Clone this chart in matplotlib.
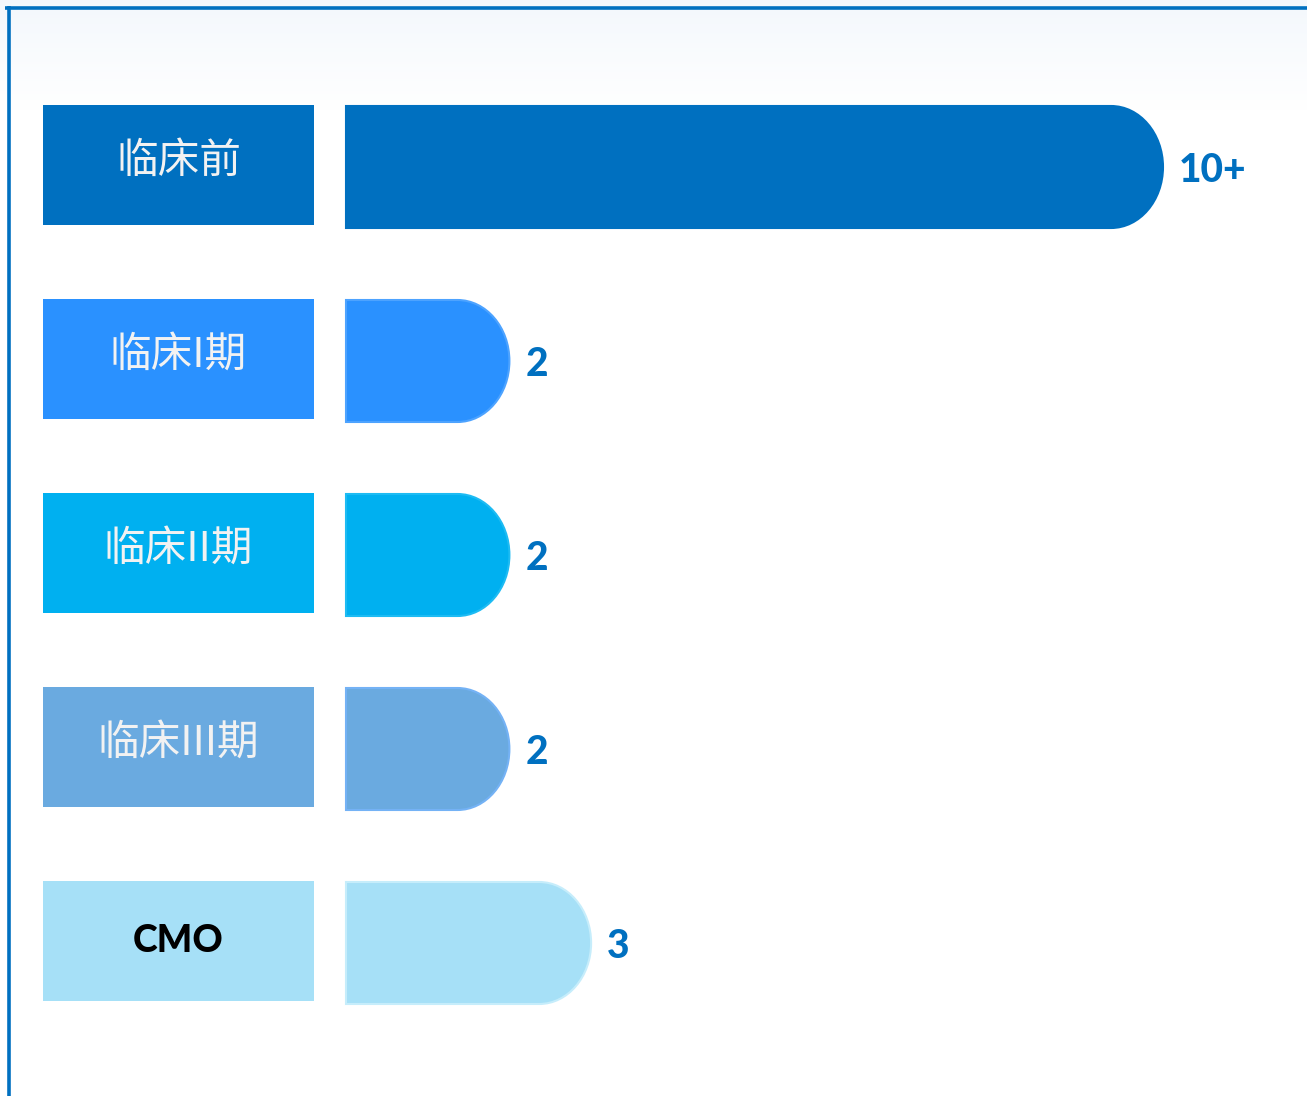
import matplotlib
matplotlib.use("Agg")
import matplotlib.pyplot as plt
import numpy as np
from matplotlib.path import Path
from matplotlib.patches import PathPatch, Rectangle

# ---- data ----
categories = ["临床前", "临床I期", "临床II期", "临床III期", "CMO"]
values = [10, 2, 2, 2, 3]
value_labels = ["10+", "2", "2", "2", "3"]
colors = ["#0070C0", "#2A91FF", "#00B0F0", "#6AAAE0", "#A6E0F7"]
edge_colors = ["#0070C0", "#4DA3FF", "#1DBBF3", "#74B2F5", "#C6EDFB"]
label_text_colors = ["#F2F2F2", "#F2F2F2", "#F2F2F2", "#F2F2F2", "#000000"]

# ---- layout (pixels) ----
W, H = 1307, 1096
DPI = 100
x0_px = 346.0          # bar origin
px_per_unit = 81.7
row0_px = 167.0
row_step_px = 194.0

fig = plt.figure(figsize=(W / DPI, H / DPI), dpi=DPI)
fig.patch.set_facecolor("white")

# background faint gradient at top
bg = fig.add_axes([0, 0, 1, 1])
bg.set_xlim(0, W); bg.set_ylim(H, 0); bg.axis("off")
grad = np.linspace(0, 1, 120)[:, None]
c_top = np.array([0.955, 0.972, 0.99]); c_bot = np.array([1.0, 1.0, 1.0])
img = c_top[None, None, :] * (1 - grad[..., None]) + c_bot[None, None, :] * grad[..., None]
img = np.repeat(img, 2, axis=1)
bg.imshow(img, extent=(0, W, 110, 0), aspect="auto", zorder=0)
# border lines
bg.plot([5, W], [7.5, 7.5], color="#0070C0", lw=2.6, solid_capstyle="butt", zorder=5)
bg.plot([8.5, 8.5], [6, H], color="#0070C0", lw=2.6, solid_capstyle="butt", zorder=5)

ax = fig.add_axes([0, 0, 1, 1])
ax.patch.set_alpha(0)
ax.set_xlim(-x0_px / px_per_unit, (W - x0_px) / px_per_unit)
ax.set_ylim((H - row0_px) / row_step_px, -row0_px / row_step_px)
ax.axis("off")

bar_h = 122 / row_step_px
box_h = 120 / row_step_px
rx = 52 / px_per_unit
box_x0 = (43 - x0_px) / px_per_unit
box_x1 = (314 - x0_px) / px_per_unit
k = 0.5523

cjk = ["Noto Sans CJK SC", "DejaVu Sans"]

for i, (cat, v, lab, c, ec, tc) in enumerate(zip(categories, values, value_labels,
                                                 colors, edge_colors, label_text_colors)):
    y = i
    yt, yb = y - bar_h / 2, y + bar_h / 2
    hh = bar_h / 2
    xs = v - rx
    verts = [(0, yt), (xs, yt),
             (xs + k * rx, yt), (v, y - k * hh), (v, y),
             (v, y + k * hh), (xs + k * rx, yb), (xs, yb),
             (0, yb), (0, yt)]
    codes = [Path.MOVETO, Path.LINETO,
             Path.CURVE4, Path.CURVE4, Path.CURVE4,
             Path.CURVE4, Path.CURVE4, Path.CURVE4,
             Path.LINETO, Path.CLOSEPOLY]
    ax.add_patch(PathPatch(Path(verts, codes), facecolor=c, edgecolor=ec, lw=1.5, zorder=3))
    ax.text(v + 16 / px_per_unit, y + 0.02, lab, color="#0070C0", fontsize=28,
            fontweight="black", family=["Lato", "DejaVu Sans"], va="center", ha="left", zorder=4)

    box_y = y - 0.01
    ax.add_patch(Rectangle((box_x0, box_y - box_h / 2), box_x1 - box_x0, box_h,
                           facecolor=c, edgecolor="none", zorder=3))
    if cat == "CMO":
        ax.text((box_x0 + box_x1) / 2, box_y, cat, color=tc, fontsize=27, fontweight="black",
                family=["Lato", "DejaVu Sans"], ha="center", va="center", zorder=4)
    else:
        ax.text((box_x0 + box_x1) / 2, box_y - 0.02, cat, color=tc, fontsize=30,
                fontweight="medium", family=cjk, ha="center", va="center", zorder=4)

fig.savefig("out.png", dpi=DPI, facecolor="white")
